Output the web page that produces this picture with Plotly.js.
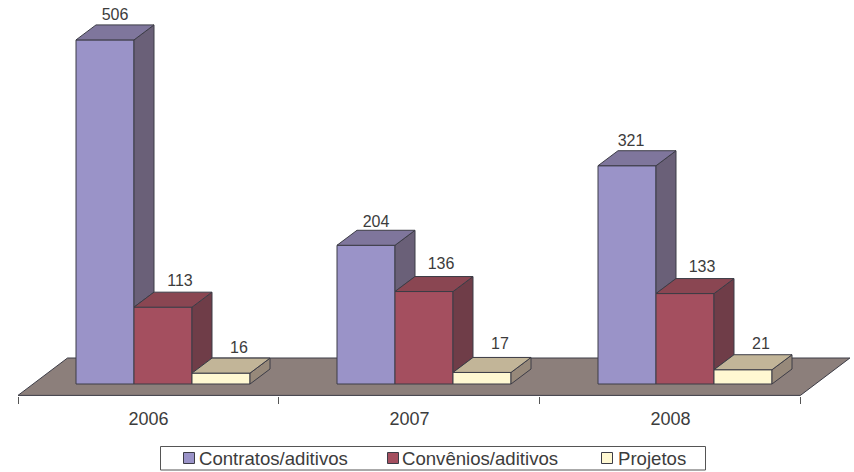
<!DOCTYPE html>
<html><head><meta charset="utf-8">
<script src="https://cdn.plot.ly/plotly-3.0.1.min.js"></script>
<style>html,body{margin:0;padding:0;background:#fff}#c{width:854px;height:472px}</style>
</head><body><div id="c"></div>
<script>
var categories = ['2006', '2007', '2008'];
var seriesNames = ['Contratos/aditivos', 'Convênios/aditivos', 'Projetos'];
var contratos = [506, 204, 321];
var convenios = [113, 136, 133];
var projetos = [16, 17, 21];

var series = [contratos, convenios, projetos];
var W = 854, H = 472, axisBottom = 396, pxPerUnitY = 0.68, pxPerCat = 261, x0px = 18, zeroPx = 384;
var ux = function (p) { return p / pxPerCat; }, uy = function (p) { return p / pxPerUnitY; };
var barW = ux(58), depthX = ux(20), depthY = uy(15), catSpan = 260.8 / 261;
var frontColor = ['#9a93c8', '#a44f5f', '#fff8d2'];
var topColor = ['#7f769c', '#8a4652', '#c2b598'];
var sideColor = ['#6a6078', '#6f3d48', '#97897a'];
var edge = '#3c3c46', ink = '#3c3c3c';
var labelDx = [ux(39), ux(46), ux(47)];
var labelFix = [[0, 0, -6], [0, 0, 0], [0, 0, 0]];
var labelRaise = [[-2, -4, -2], [-1, 1, 0], [-2, 1, -1]];

var traces = [];
var xpos = categories.map(function (c, i) { return i; });
series.forEach(function (vals, s) {
  traces.push({
    type: 'bar', name: seriesNames[s], x: xpos, y: vals, showlegend: false,
    width: barW, offset: barW * (s + 1),
    marker: { color: frontColor[s], line: { color: edge, width: 1 } },
    hoverinfo: 'y'
  });
});
series.forEach(function (vals, s) {
  var sx = [], sy = [], tx = [], ty = [];
  vals.forEach(function (v, i) {
    var l = i + barW * (s + 1), r = l + barW;
    var next = s < series.length - 1 ? series[s + 1][i] : 0;
    sx.push(r, r + depthX, r + depthX, r, r, null);
    sy.push(v, v + depthY, next + depthY, next, v, null);
    tx.push(l, l + depthX, r + depthX, r, l, null);
    ty.push(v, v + depthY, v + depthY, v, v, null);
  });
  [[sx, sy, sideColor[s]], [tx, ty, topColor[s]]].forEach(function (f) {
    traces.push({
      type: 'scatter', mode: 'lines', x: f[0], y: f[1], fill: 'toself', fillcolor: f[2],
      line: { color: edge, width: 1 }, showlegend: false, hoverinfo: 'skip'
    });
  });
  traces.push({
    type: 'scatter', mode: 'text', showlegend: false, hoverinfo: 'skip',
    x: vals.map(function (v, i) { return i + barW * (s + 1) + labelDx[s] + ux(labelFix[s][i]); }),
    y: vals.map(function (v, i) { return v + depthY + uy(11 + labelRaise[s][i]); }),
    text: vals.map(String), textposition: 'middle center',
    textfont: { family: 'Liberation Sans', size: 16, color: ink }
  });
});

var px = function (p) { return p / W; }, py = function (p) { return (axisBottom - p) / axisBottom; };
var floorDx = ux(49.5), floorB = uy(zeroPx - 395.4), floorT = uy(zeroPx - 358), floorR = 3 * catSpan;
var swatchLeft = [183, 387, 601], textLeft = [198, 401, 617];
var shapes = [{
  type: 'path', layer: 'below', xref: 'x', yref: 'y',
  path: 'M0,' + floorB + ' L' + floorR + ',' + floorB + ' L' + (floorR + floorDx) + ',' + floorT + ' L' + floorDx + ',' + floorT + ' Z',
  fillcolor: '#8c7f7b', line: { color: edge, width: 1 }
}, {
  type: 'rect', xref: 'paper', yref: 'paper', x0: px(160.5), x1: px(705.5), y0: py(470), y1: py(446.5),
  fillcolor: '#fff', line: { color: '#555', width: 1 }
}];
var annotations = [];
seriesNames.forEach(function (n, s) {
  shapes.push({
    type: 'rect', xref: 'paper', yref: 'paper',
    x0: px(swatchLeft[s] + 0.5), x1: px(swatchLeft[s] + 11.5), y0: py(463.5), y1: py(452.5),
    fillcolor: frontColor[s], line: { color: edge, width: 1 }
  });
  annotations.push({
    xref: 'paper', yref: 'paper', x: px(textLeft[s]), y: py(458), text: n, showarrow: false,
    xanchor: 'left', yanchor: 'middle', borderpad: 0,
    font: { family: 'Liberation Sans', size: 18.6, color: ink }
  });
});
var layout = {
  width: W, height: H, margin: { l: 0, r: 0, t: 0, b: H - axisBottom, pad: 0, autoexpand: false },
  paper_bgcolor: '#fff', plot_bgcolor: '#fff', showlegend: false,
  font: { family: 'Liberation Sans', color: ink },
  barmode: 'overlay',
  xaxis: {
    range: [-x0px / pxPerCat, (W - x0px) / pxPerCat], showgrid: false, zeroline: false, showline: false,
    tickmode: 'array', tickvals: categories.map(function (c, i) { return i + 0.5; }), ticktext: categories,
    ticks: '', ticklen: 0, ticklabelstandoff: 10, tickfont: { size: 18, color: ink, family: 'Liberation Sans' },
    minor: { tickmode: 'array', tickvals: [0, catSpan, 2 * catSpan, floorR], ticks: 'outside', ticklen: 7, tickcolor: '#555', tickwidth: 1, showgrid: false }
  },
  yaxis: { range: [(zeroPx - axisBottom) / pxPerUnitY, zeroPx / pxPerUnitY], visible: false },
  shapes: shapes, annotations: annotations
};
Plotly.newPlot('c', traces, layout, { displayModeBar: false, staticPlot: true });
</script></body></html>
